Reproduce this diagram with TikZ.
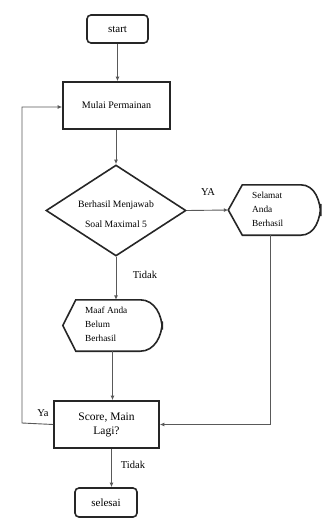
\documentclass[tikz,border=0pt]{standalone}
\usepackage{fontspec}
\setmainfont{Liberation Serif}
\usetikzlibrary{arrows.meta,shapes.geometric,calc}
\begin{document}
\begin{tikzpicture}[x=1pt,y=-1pt,
  shapeline/.style={line width=1.6pt,draw=black!85},
  conn/.style={line width=0.9pt,draw=black!65},
  arr/.style={conn,-{Latex[length=4.5pt,width=4pt]}},
  termbox/.style={shapeline,rounded corners=4pt,minimum width=61pt,minimum height=28pt,inner sep=0pt,font=\fontsize{11}{13}\selectfont},
  procbox/.style={shapeline,minimum width=107pt,minimum height=47pt,inner sep=0pt,font=\fontsize{10}{12}\selectfont},
  dispbox/.style={draw=none,inner sep=0pt},
  lbl/.style={font=\fontsize{10.5}{12}\selectfont,inner sep=0pt}
]
\useasboundingbox (0,0) rectangle (322,520);

\node[termbox] (start) at (117.5,29) {start};
\node[procbox] (mulai) at (116.5,105.5) {Mulai Permainan};
\node[shapeline,diamond,minimum width=140pt,minimum height=91pt,inner sep=0pt] (dia) at (116,210.5) {};
\node[font=\fontsize{9.7}{12}\selectfont,align=center] (diatext) at (116,214) {Berhasil Menjawab\\[8pt]Soal Maximal 5};

% Selamat display shape
\node[dispbox,minimum width=92pt,minimum height=50pt] (sel) at (274.5,210) {};
\draw[shapeline] (sel.west) -- ([xshift=14pt]sel.north west) -- ([xshift=-20pt]sel.north east)
  to[out=0,in=90] ([yshift=-6pt]sel.east) -- ([yshift=6pt]sel.east) to[out=-90,in=0] ([xshift=-20pt]sel.south east)
  -- ([xshift=14pt]sel.south west) -- cycle;
\node[font=\fontsize{9.3}{14}\selectfont,align=left,anchor=west,inner sep=0pt] (seltext) at (252,209) {Selamat\\Anda\\Berhasil};

% Maaf display shape
\node[dispbox,minimum width=99pt,minimum height=51pt] (maaf) at (112.5,325.5) {};
\draw[shapeline] (maaf.west) -- ([xshift=13pt]maaf.north west) -- ([xshift=-22pt]maaf.north east)
  to[out=0,in=90] ([yshift=-4pt]maaf.east) -- ([yshift=4pt]maaf.east) to[out=-90,in=0] ([xshift=-22pt]maaf.south east)
  -- ([xshift=13pt]maaf.south west) -- cycle;
\node[font=\fontsize{9.3}{14}\selectfont,align=left,anchor=west,inner sep=0pt] (maaftext) at (85,324) {Maaf Anda\\Belum\\Berhasil};

\node[procbox,minimum width=105pt,font=\fontsize{11.5}{14}\selectfont,align=center] (score) at (106.5,424.5) {Score, Main\\Lagi?};
\node[termbox,minimum width=62pt,minimum height=29pt] (selesai) at (106,502.5) {selesai};

\coordinate (loopbot) at (22,423);
\coordinate (looptop) at (22,107);

% connectors
\draw[arr] (start) -- (start |- mulai.north);
\draw[arr] (mulai.south -| dia.north) -- (dia.north);
\draw[arr] (dia.east) -- (sel.west);
\draw[arr] (dia.south) -- (dia.south |- maaf.north);
\draw[arr] (maaf.south) -- (maaf.south |- score.north);
\draw[arr] ([xshift=-4pt]sel.south) |- (score.east);
\draw[arr] (score.west) -- (loopbot) -- (looptop) -- (looptop -| mulai.west);
\draw[arr] ([xshift=5pt]score.south) -- ([xshift=5pt]score.south |- selesai.north);

% labels
\node[lbl] (lya) at (208,192) {YA};
\node[lbl] (ltidak1) at (145,275) {Tidak};
\node[lbl] (lya2) at (43,413) {Ya};
\node[lbl] (ltidak2) at (133,465) {Tidak};
\end{tikzpicture}
\end{document}
